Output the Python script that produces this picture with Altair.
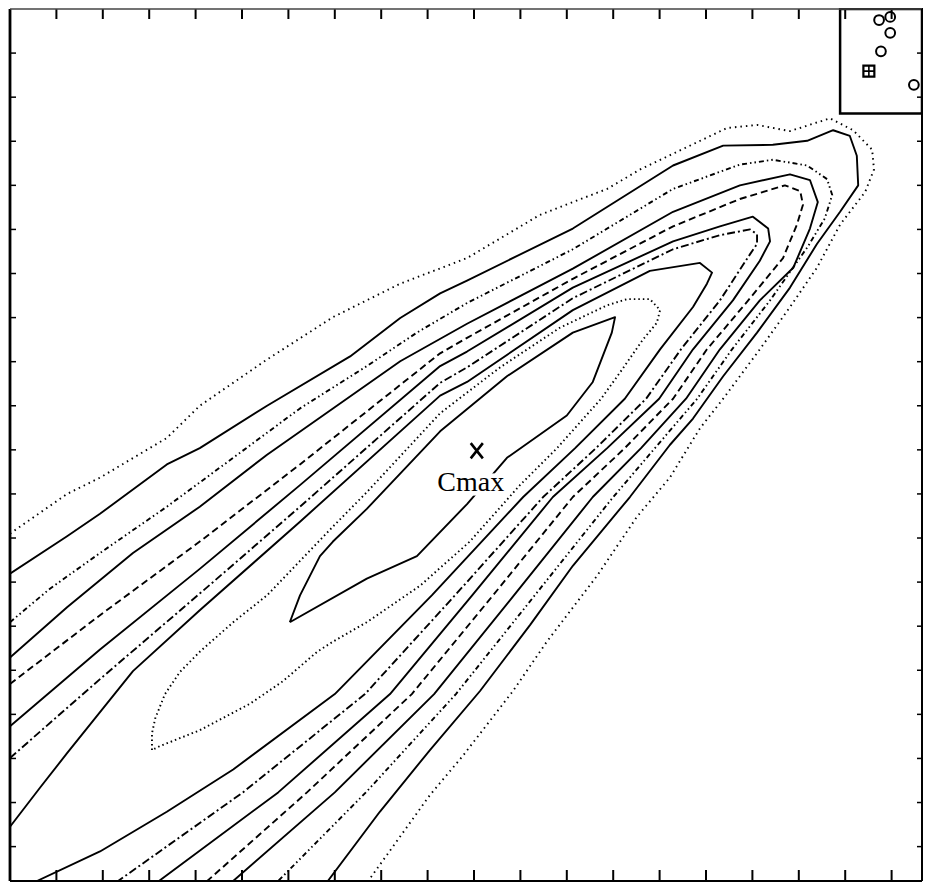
import altair as alt
import pandas as pd

# ---- frame / scales (tick units, y counted downward from the top edge) ----
X_MAX = 19.655
Y_MAX = 19.78
W, H = 912, 872

# ---- contour lines (outermost T1 ... innermost T10) ----
T1_x = [0, 1.23, 1.94, 3.38, 4.09, 5.54, 6.96, 8.41, 9.85, 11.42, 12.87, 13.58, 15.45, 16.10, 16.81, 17.67, 18.17,
        18.58, 18.62, 18.43, 17.89, 17.39, 16.81, 16.16, 15.37, 14.87, 14.22, 13.51, 12.65, 11.57, 10.84, 9.76, 9.05, 7.72]
T1_y = [11.90, 11.00, 10.63, 9.73, 9.00, 7.95, 6.99, 6.23, 5.65, 4.67, 4.08, 3.64, 2.70, 2.63, 2.77, 2.48, 2.75,
        3.19, 3.64, 4.15, 4.89, 5.87, 6.76, 7.72, 8.84, 9.51, 10.63, 11.52, 12.86, 14.35, 15.47, 16.94, 17.83, 19.78]

T2_x = [0, 1.23, 1.94, 3.38, 4.09, 5.54, 7.33, 8.41, 9.27, 9.85, 12.13, 14.29, 15.37, 16.44, 17.18, 17.74, 18.10,
        18.25, 18.28, 17.89, 17.39, 16.81, 16.10, 15.37, 14.72, 14.22, 13.36, 12.13, 11.21, 10.13, 9.05, 7.97, 6.85]
T2_y = [12.81, 11.96, 11.45, 10.33, 9.96, 9.00, 7.88, 7.01, 6.45, 6.16, 4.98, 3.55, 3.10, 3.08, 2.99, 2.75, 2.88,
        3.33, 4.00, 4.60, 5.33, 6.32, 7.34, 8.33, 9.29, 9.89, 11.07, 12.63, 13.97, 15.47, 16.81, 18.21, 19.78]

T3_x = [0, 0.86, 1.94, 3.38, 4.81, 6.25, 7.69, 8.77, 9.85, 12.13, 14.29, 15.73, 16.44, 17.18, 17.61, 17.72, 17.56,
        17.20, 16.38, 15.56, 14.81, 13.90, 13.00, 11.31, 9.61, 7.67, 5.78]
T3_y = [13.91, 13.15, 12.34, 11.29, 10.18, 9.06, 8.10, 7.34, 6.67, 5.45, 4.08, 3.53, 3.42, 3.55, 3.86, 4.22, 4.75,
        5.38, 6.61, 7.72, 8.84, 9.96, 11.07, 13.30, 15.54, 17.77, 19.78]

T4_x = [0, 1.23, 2.65, 4.09, 5.54, 6.96, 8.41, 9.85, 12.13, 14.29, 15.73, 16.81, 17.24, 17.41, 17.24, 16.88, 16.16,
        15.30, 14.57, 13.60, 12.56, 10.86, 9.14, 7.00, 4.81]
T4_y = [14.71, 13.57, 12.34, 11.29, 10.11, 9.06, 7.99, 7.14, 5.89, 4.60, 4.00, 3.75, 3.88, 4.38, 4.98, 5.87, 6.61,
        7.72, 8.84, 9.96, 11.07, 13.30, 15.54, 17.77, 19.78]

T5_x = [0, 1.94, 4.09, 6.25, 9.27, 9.85, 12.13, 14.29, 15.73, 16.70, 17.03, 17.09, 16.96, 16.66, 15.91, 15.02, 14.29,
        13.25, 12.13, 10.41, 8.66, 6.40, 4.25]
T5_y = [15.31, 13.75, 12.08, 10.33, 7.81, 7.46, 6.12, 4.93, 4.31, 4.00, 4.13, 4.44, 4.89, 5.65, 6.61, 7.72, 8.84,
        9.96, 11.07, 13.30, 15.54, 17.77, 19.78]

T6_x = [0, 1.94, 4.09, 6.25, 9.27, 9.85, 12.13, 14.29, 15.30, 16.01, 16.34, 16.38, 16.16, 15.58, 14.72, 13.99, 12.87,
        11.70, 9.96, 8.19, 5.78, 3.21]
T6_y = [16.27, 14.53, 12.70, 10.80, 8.10, 7.77, 6.32, 5.27, 4.93, 4.71, 4.98, 5.27, 5.71, 6.61, 7.72, 8.84, 9.96,
        11.07, 13.30, 15.54, 17.77, 19.78]

T7_x = [0, 1.94, 4.09, 6.25, 9.27, 9.85, 12.13, 14.29, 15.30, 15.95, 16.10, 16.10, 15.95, 15.30, 14.46, 13.71, 12.63,
        11.49, 9.59, 7.65, 5.02, 2.33]
T7_y = [16.99, 15.20, 13.26, 11.29, 8.48, 8.13, 6.56, 5.45, 5.13, 5.00, 5.11, 5.33, 5.56, 6.61, 7.72, 8.84, 9.96,
        11.07, 13.30, 15.54, 17.77, 19.78]

T8_x = [0, 0.65, 1.23, 2.65, 4.09, 6.25, 9.27, 9.85, 12.13, 13.79, 14.87, 15.13, 15.02, 14.72, 14.01, 13.25, 12.18,
        11.06, 9.09, 7.00, 4.81, 3.38, 1.94, 0.58]
T8_y = [18.55, 17.66, 16.88, 15.02, 13.64, 11.63, 8.77, 8.46, 6.83, 5.94, 5.76, 5.98, 6.23, 6.76, 7.72, 8.84, 9.96,
        11.07, 13.30, 15.54, 17.25, 18.21, 19.11, 19.78]

T9_x = [3.06, 3.06, 3.13, 3.34, 3.66, 4.09, 4.81, 5.54, 6.25, 6.96, 7.69, 9.27, 10.56, 11.85, 12.87, 13.30, 13.79,
        14.01, 13.94, 13.64, 13.15, 12.74, 11.79, 10.99, 9.91, 8.84, 7.69, 6.96, 6.62, 5.88, 5.17, 4.09, 3.23, 3.06]
T9_y = [16.81, 16.43, 16.09, 15.54, 15.04, 14.58, 13.91, 13.30, 12.52, 11.74, 10.96, 9.17, 8.13, 7.23, 6.72, 6.58, 6.58,
        6.83, 7.12, 7.50, 8.24, 8.84, 9.96, 10.80, 12.08, 13.08, 13.91, 14.35, 14.58, 15.25, 15.76, 16.36, 16.72, 16.81]

T10_x = [6.03, 6.25, 6.68, 6.96, 7.69, 9.27, 10.71, 12.13, 13.04, 12.97, 12.56, 12.00, 10.71, 9.85, 8.77, 7.69, 6.03]
T10_y = [13.91, 13.30, 12.41, 12.08, 11.34, 9.58, 8.33, 7.34, 6.99, 7.34, 8.46, 9.22, 10.18, 11.23, 12.41, 12.92, 13.91]

CONTOURS = [
    ("T1", T1_x, T1_y, [1.5, 4]),
    ("T2", T2_x, T2_y, None),
    ("T3", T3_x, T3_y, [5, 3, 1.5, 3, 1.5, 3]),
    ("T4", T4_x, T4_y, None),
    ("T5", T5_x, T5_y, [7, 4]),
    ("T6", T6_x, T6_y, None),
    ("T7", T7_x, T7_y, [8, 3, 2, 3]),
    ("T8", T8_x, T8_y, None),
    ("T9", T9_x, T9_y, [1.5, 3]),
    ("T10", T10_x, T10_y, None),
]

# ---- inset box and its symbols ----
INSET = {"x1": [17.89], "x2": [X_MAX], "y1": [0.0], "y2": [2.37]}
DOTS_x = [18.73, 18.97, 18.97, 18.77, 19.48]
DOTS_y = [0.25, 0.18, 0.54, 0.96, 1.72]
HATCH_x = [18.51]
HATCH_y = [1.41]

# ---- maximum marker and label ----
CMAX_x = [10.06]
CMAX_y = [10.02]
LABEL_x = [9.93]
LABEL_y = [10.94]
LABEL_t = ["Cmax"]

TICKS_X = list(range(1, 20))
TICKS_Y = list(range(1, 20))

xs = alt.Scale(domain=[0, X_MAX], nice=False, zero=False)
ys = alt.Scale(domain=[0, Y_MAX], nice=False, zero=False, reverse=True)


def X(f):
    return alt.X(f, type="quantitative", scale=xs, axis=None)


def Y(f):
    return alt.Y(f, type="quantitative", scale=ys, axis=None)


layers = []
for name, xv, yv, dash in CONTOURS:
    d = pd.DataFrame({"x": xv, "y": yv, "i": list(range(len(xv)))})
    mk = dict(color="black", strokeWidth=1.9, clip=True, strokeJoin="round")
    if dash:
        mk["strokeDash"] = dash
    layers.append(alt.Chart(d).mark_line(**mk).encode(x=X("x"), y=Y("y"), order="i:Q"))

inset = alt.Chart(pd.DataFrame(INSET)).mark_rect(fill="white", stroke="black", strokeWidth=2.5).encode(
    x=X("x1"), x2="x2", y=Y("y1"), y2="y2")
dots = alt.Chart(pd.DataFrame({"x": DOTS_x, "y": DOTS_y})).mark_point(
    shape="circle", filled=False, color="black", strokeWidth=2, size=95, opacity=1).encode(x=X("x"), y=Y("y"))
hatch_c = alt.Chart(pd.DataFrame({"x": HATCH_x, "y": HATCH_y})).mark_point(
    shape="square", filled=False, color="black", strokeWidth=2.2, size=120, opacity=1).encode(x=X("x"), y=Y("y"))
hatch_p = alt.Chart(pd.DataFrame({"x": HATCH_x, "y": HATCH_y})).mark_point(
    shape="M-1,0L1,0M0,-1L0,1", filled=False, color="black", strokeWidth=1.6, size=120, opacity=1).encode(
    x=X("x"), y=Y("y"))

cmax = alt.Chart(pd.DataFrame({"x": CMAX_x, "y": CMAX_y})).mark_point(
    shape="M-0.8,-1L0.8,1M-0.8,1L0.8,-1", filled=False, color="black", strokeWidth=2.6, size=230, opacity=1).encode(
    x=X("x"), y=Y("y"))
lab_df = pd.DataFrame({"x": LABEL_x, "y": LABEL_y, "t": LABEL_t})
label_halo = alt.Chart(lab_df).mark_text(
    font="Liberation Serif", fontSize=28, align="center", baseline="alphabetic", color="white",
    stroke="white", strokeWidth=9).encode(x=X("x"), y=Y("y"), text="t:N")
label = alt.Chart(lab_df).mark_text(
    font="Liberation Serif", fontSize=28, align="center", baseline="alphabetic", color="black").encode(
    x=X("x"), y=Y("y"), text="t:N")

tx = pd.DataFrame({"t": TICKS_X})
ty = pd.DataFrame({"t": TICKS_Y})
t_bottom = alt.Chart(tx).mark_rule(color="black", strokeWidth=2).encode(x=X("t"), y=alt.value(H), y2=alt.value(H - 11))
t_top = alt.Chart(tx).mark_rule(color="black", strokeWidth=2).encode(x=X("t"), y=alt.value(0), y2=alt.value(10))
t_left = alt.Chart(ty).mark_rule(color="black", strokeWidth=1.5).encode(y=Y("t"), x=alt.value(0), x2=alt.value(6))
t_right = alt.Chart(ty).mark_rule(color="black", strokeWidth=1.5).encode(y=Y("t"), x=alt.value(W), x2=alt.value(W - 5))

one = pd.DataFrame({"k": [0]})
f_left = alt.Chart(one).mark_rule(color="black", strokeWidth=2.8).encode(
    x=alt.value(0), y=alt.value(0), y2=alt.value(H))
f_bottom = alt.Chart(one).mark_rule(color="black", strokeWidth=2).encode(
    y=alt.value(H), x=alt.value(0), x2=alt.value(W))
f_top = alt.Chart(one).mark_rule(color="#444444", strokeWidth=1.3).encode(
    y=alt.value(0), x=alt.value(0), x2=alt.value(W))
f_right = alt.Chart(one).mark_rule(color="black", strokeWidth=2).encode(
    x=alt.value(W), y=alt.value(0), y2=alt.value(H))

chart = alt.layer(*layers, inset, dots, hatch_c, hatch_p, cmax, label_halo, label,
                  t_bottom, t_top, t_left, t_right, f_left, f_bottom, f_top, f_right).properties(
    width=W, height=H,
    padding={"left": 2, "top": 1, "right": 1, "bottom": 2},
    autosize=alt.AutoSizeParams(type="none"),
).configure_view(strokeWidth=0)

chart.save("out.html", embed_options={"renderer": "svg", "actions": False})
